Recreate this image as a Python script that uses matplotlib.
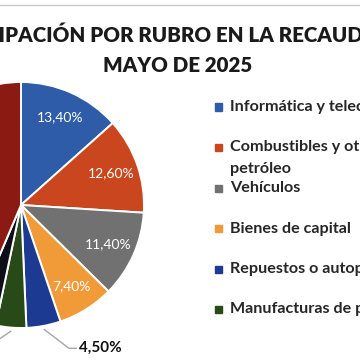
import matplotlib.pyplot as plt
from matplotlib.patches import Rectangle
from matplotlib.lines import Line2D
import numpy as np

# %%
rubros = ['Informática y telecomunicaciones',
          'Combustibles y otros derivados del\npetróleo',
          'Vehículos',
          'Bienes de capital',
          'Repuestos o autopartes',
          'Manufacturas de plástico',
          'Productos químicos',
          'Otros']
valores = [13.4, 12.6, 11.4, 7.4, 4.5, 4.0, 3.1, 43.6]
colores = ['#2E5CA8', '#C9461F', '#717171', '#F19A38',
           '#1C3A92', '#284A18', '#0E0E18', '#8A1A12']
titulo = 'PARTICIPACIÓN POR RUBRO EN LA RECAUDACIÓN'
subtitulo = 'MAYO DE 2025'

plt.rcParams['font.family'] = ['Lato', 'DejaVu Sans']

# %%
W = 360
fig = plt.figure(figsize=(3.6, 3.6), dpi=100)
fig.patch.set_facecolor('white')

# pie centre / radius in pixels (top-left origin)
cx, cy, r = 21, 205, 123
ax = fig.add_axes([(cx - r) / W, (W - cy - r) / W, 2 * r / W, 2 * r / W])
wedges, _ = ax.pie(valores, colors=colores, startangle=90, counterclock=False,
                   wedgeprops=dict(edgecolor='white', linewidth=1.4))
ax.set_xlim(-1, 1)
ax.set_ylim(-1, 1)
ax.set_aspect('equal')
ax.axis('off')


def fmt(v):
    return f'{v:.2f}%'.replace('.', ',')


n_fuera = 0
for w, v in zip(wedges, valores):
    mid = np.deg2rad((w.theta1 + w.theta2) / 2)
    x, y = np.cos(mid), np.sin(mid)
    if v >= 7:
        ax.text(0.78 * x, 0.78 * y, fmt(v), color='white', fontsize=10,
                ha='center', va='center')
    else:
        # leader line + outside label
        sx, sy = 1.03 * x, 1.03 * y
        ey = -1.165 + 0.16 * max(n_fuera - 1, 0)
        ex = sx + 0.2 * np.sign(x) if abs(x) > 0.02 else sx - 0.2
        if n_fuera == 2:
            ex = sx - 0.3
        hx = ex + 0.06 * np.sign(ex - sx)
        ax.plot([sx, ex, hx], [sy, ey, ey], color='#A6A6A6', lw=1,
                clip_on=False)
        ax.text(hx + 0.02 * np.sign(ex - sx), ey, fmt(v), color='#111111',
                fontsize=11, fontweight='bold',
                ha='left' if ex > sx else 'right', va='center')
        n_fuera += 1

# title
fig.text(178 / W, 1 - 42 / W, titulo, ha='center', va='baseline',
         fontsize=14.8, fontweight='heavy', color='#1a1a1a')
fig.text(178 / W, 1 - 72 / W, subtitulo, ha='center', va='baseline',
         fontsize=14.8, fontweight='heavy', color='#1a1a1a')

# top border line
fig.add_artist(Line2D([0, 1], [1 - 5 / W, 1 - 5 / W], color='#C8C8C8', lw=1))

# legend (first six entries, fixed row spacing like the original)
y0, paso = 107, 40.5
for i in range(6):
    yy = y0 + i * paso
    fig.add_artist(Rectangle((215 / W, 1 - (yy + 3.5) / W), 7 / W, 7 / W,
                             color=colores[i], transform=fig.transFigure))
    partes = rubros[i].split('\n')
    fig.text(230 / W, 1 - yy / W, partes[0], ha='left',
             va='center', fontsize=11.6, fontweight='bold', color='#262626')
    if len(partes) > 1:
        fig.text(230 / W, 1 - (yy + 21) / W, partes[1],
                 ha='left', va='center', fontsize=11.6, fontweight='bold',
                 color='#262626')

fig.savefig('out.png', dpi=100)
